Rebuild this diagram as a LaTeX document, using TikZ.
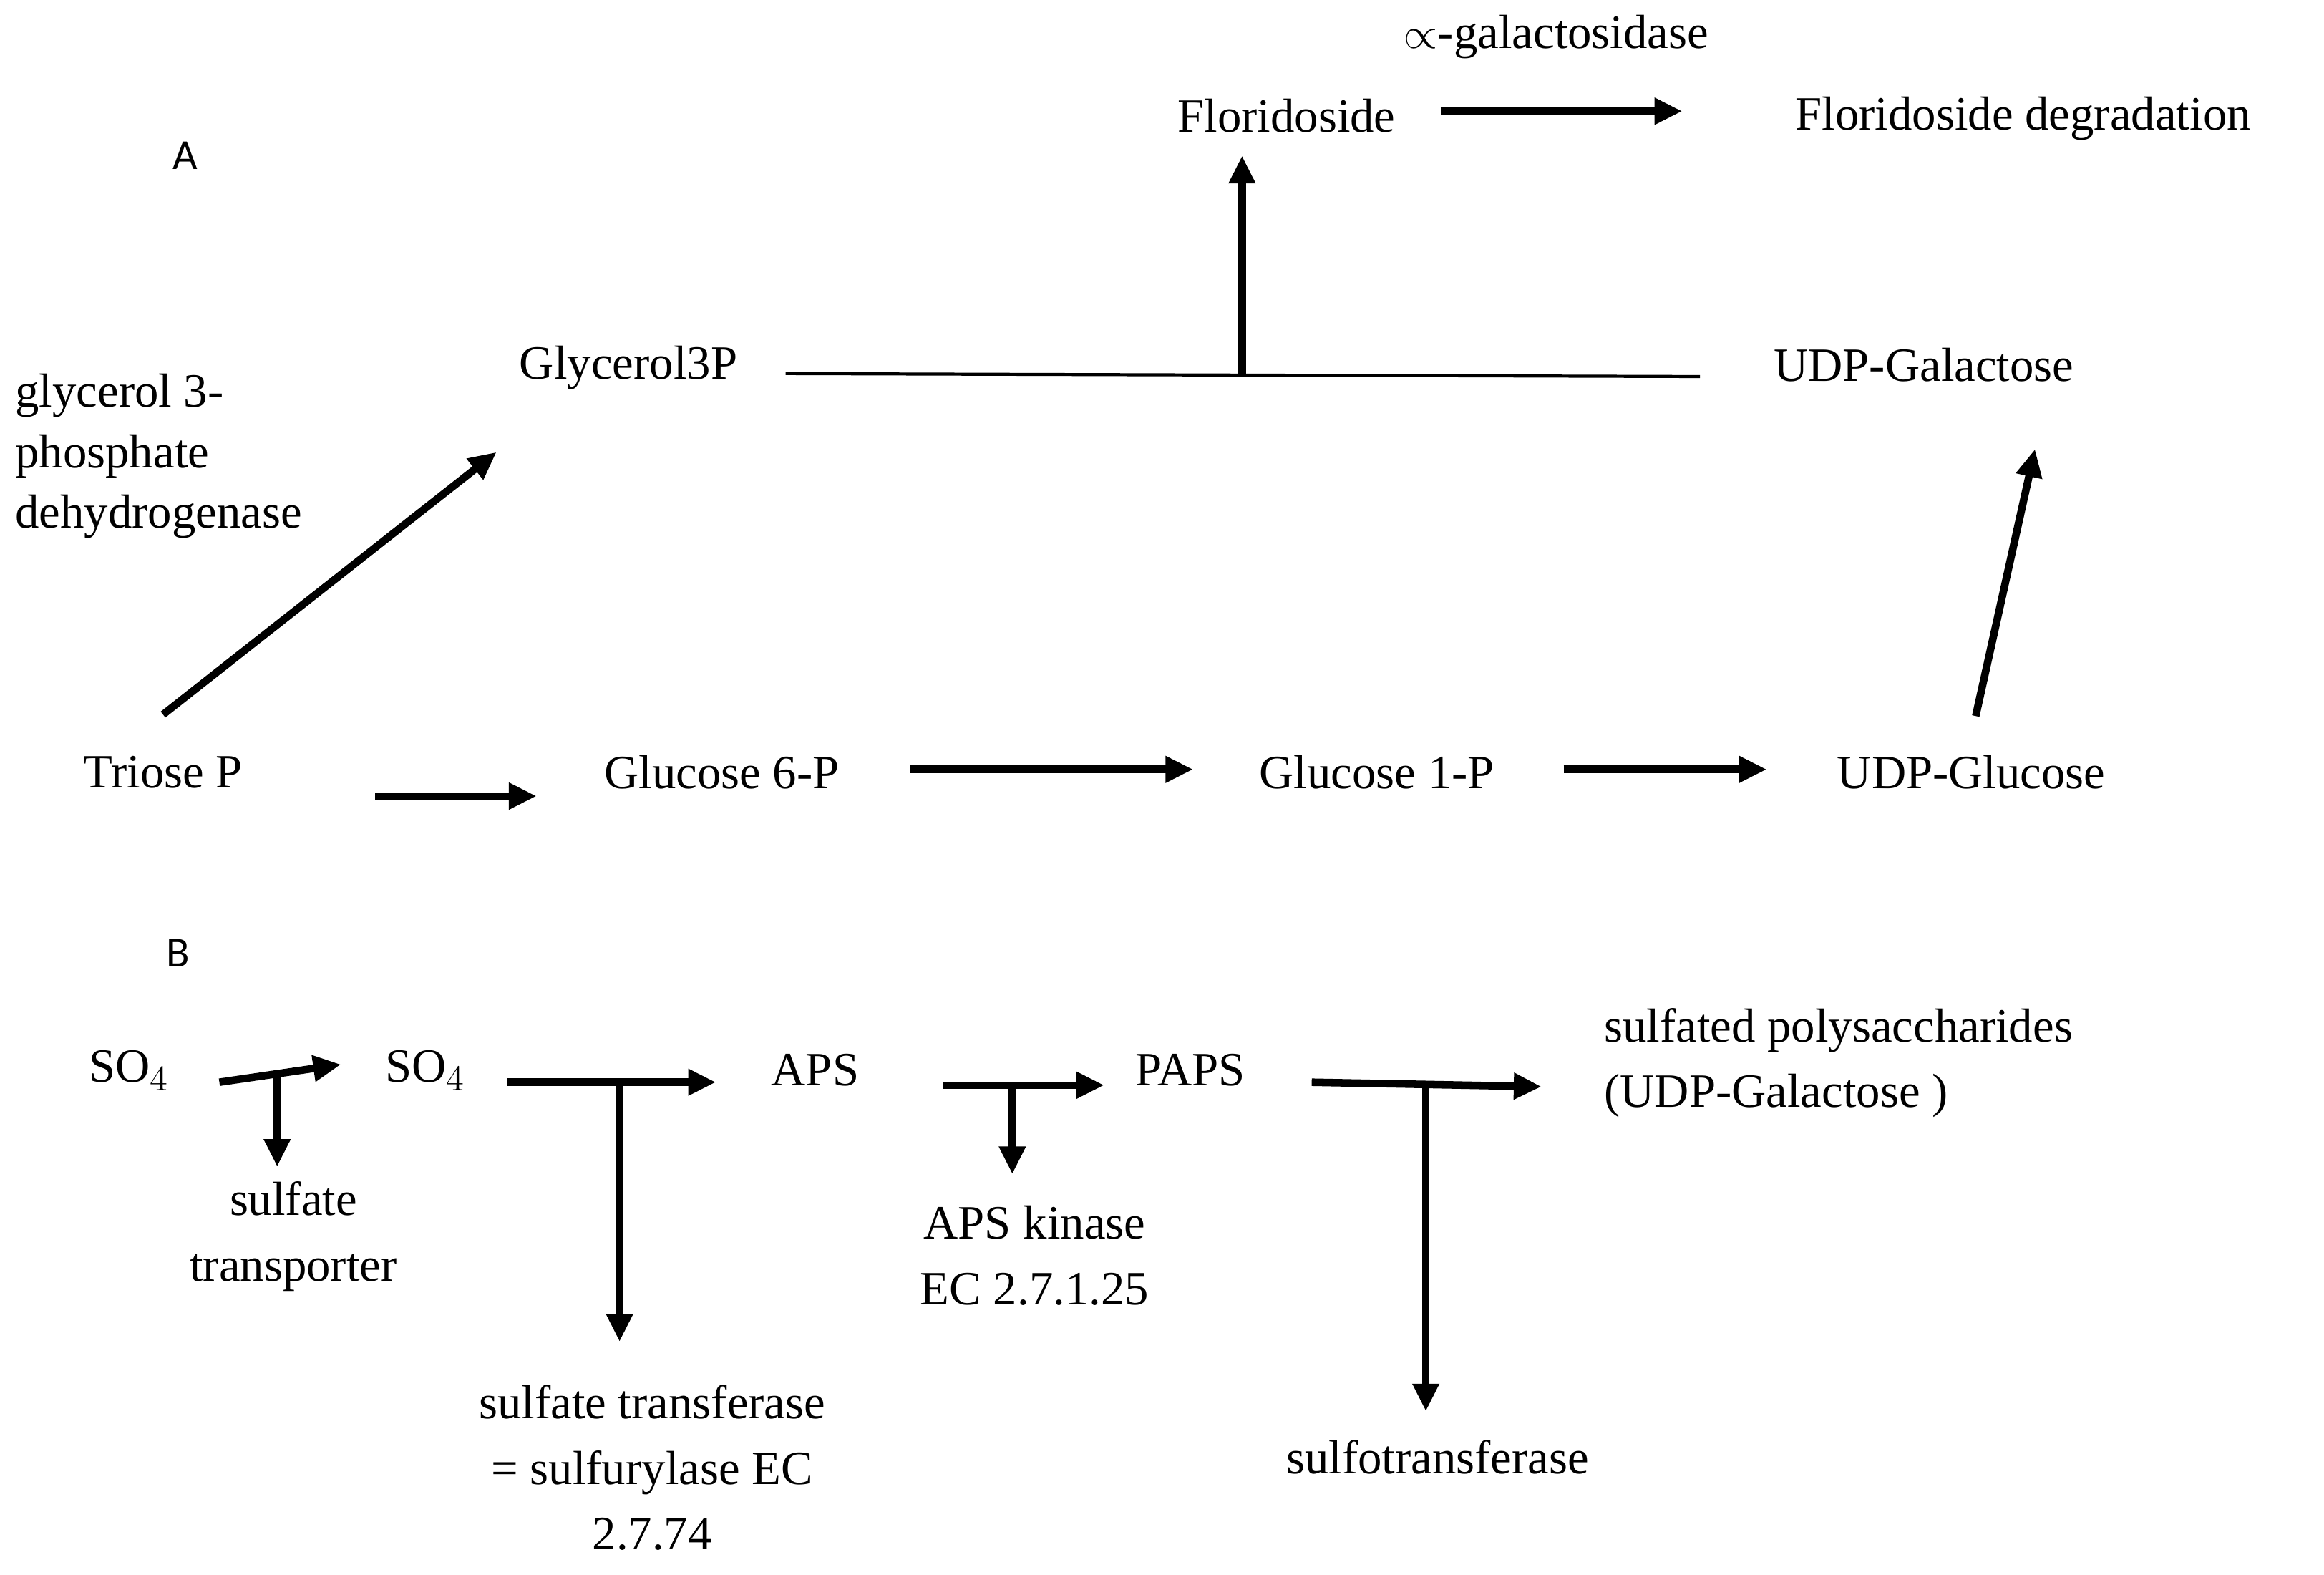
\documentclass[tikz,border=0pt]{standalone}
\usepackage{fontspec}
\setmainfont{Liberation Serif}
\newfontfamily\sansf{Carlito}
\usetikzlibrary{arrows.meta}
\begin{document}
\begin{tikzpicture}[x=0.02071cm,y=-0.02071cm,
  t/.style={font=\fontsize{19}{22}\selectfont, inner sep=0pt},
  l/.style={font=\sansf\fontsize{17}{20}\selectfont, inner sep=0pt},
  ar/.style={line width=3pt,-{Triangle[length=11pt,width=10pt]}},
  ln/.style={line width=1.2pt}]
\useasboundingbox (0,0) rectangle (1568,1062);
\node[l] (lA) at (125,105) {A};
\node[l] (lB) at (120,643) {B};
\node[t] (gal) at (1050,25) {$\propto$-galactosidase};
\node[t] (flo) at (868,78) {Floridoside};
\node[t] (fdeg) at (1365,80) {Floridoside degradation};
\node[t] (g3p) at (424,248) {Glycerol3P};
\node[t] (udpgal) at (1298,246) {UDP-Galactose};
\node[t,align=left,anchor=north west] (g3pd) at (10,252) {glycerol 3-\\[2pt]phosphate\\[2pt]dehydrogenase};
\node[t] (tri) at (110,521) {Triose P};
\node[t] (g6p) at (487,521) {Glucose 6-P};
\node[t] (g1p) at (929,521) {Glucose 1-P};
\node[t] (udpglc) at (1330,521) {UDP-Glucose};
\coordinate (m) at (838,253);
\draw[ar] (972,75) -- (1135,75);
\draw[ln] (530,252) -- (1147,254);
\draw[ar] (m) -- (838,105);
\draw[ar] (110,482) -- (335,305);
\draw[ar] (253,537) -- (362,537);
\draw[ar] (614,519) -- (805,519);
\draw[ar] (1055,519) -- (1192,519);
\draw[ar] (1333,483) -- (1373,303);
% B
\node[t] (s1) at (87,722) {SO$_4$};
\node[t] (s2) at (287,722) {SO$_4$};
\node[t] (aps) at (550,722) {APS};
\node[t] (paps) at (803,722) {PAPS};
\node[t,align=left,anchor=west] (sp) at (1082,717) {sulfated polysaccharides\\[4pt](UDP-Galactose )};
\node[t,align=center] (st) at (198,834) {sulfate\\[4pt]transporter};
\node[t,align=center] (stf) at (440,990) {sulfate transferase\\[4pt]= sulfurylase EC\\[4pt]2.7.74};
\node[t,align=center] (apsk) at (698,847) {APS kinase\\[4pt]EC 2.7.1.25};
\node[t] (sft) at (970,983) {sulfotransferase};
\draw[ar] (148,730) -- (230,718);
\draw[ar] (187,727) -- (187,787);
\draw[ar] (342,730) -- (483,730);
\draw[ar] (418,730) -- (418,905);
\draw[ar] (636,732) -- (745,732);
\draw[ar] (683,732) -- (683,792);
\draw[ar] (885,730) -- (1040,733);
\draw[ar] (962,731) -- (962,952);
\end{tikzpicture}
\end{document}
